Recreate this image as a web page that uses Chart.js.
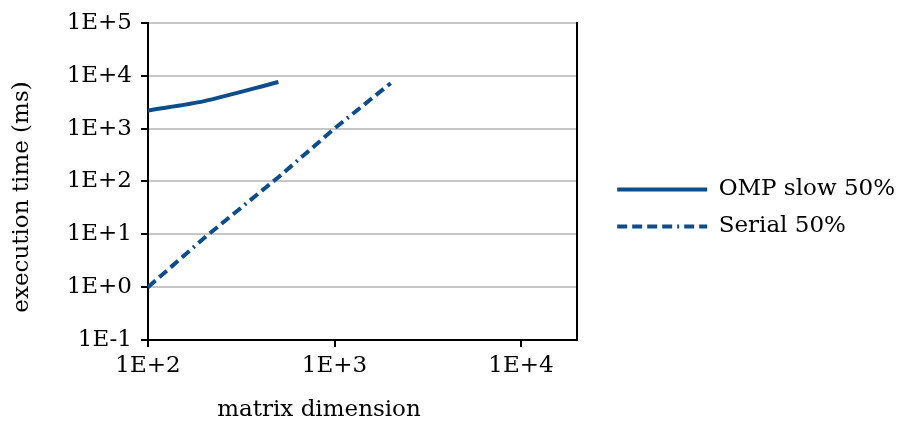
<!DOCTYPE html>
<html>
<head>
<meta charset="utf-8">
<script src="https://cdn.jsdelivr.net/npm/chart.js@4.4.1/dist/chart.umd.min.js"></script>
<style>
  html, body { margin: 0; padding: 0; background: #fff; }
  #wrap { width: 905px; height: 421px; }
</style>
</head>
<body>
<div id="wrap"><canvas id="myChart" width="905" height="421"></canvas></div>
<script>
// data (log-log)
const ompX = [100, 200, 500];
const ompY = [2200, 3300, 7600];
const serialX = [100, 200, 500, 1000, 2000];
const serialY = [1, 8.5, 120, 1000, 7200];

const seriesNames = ['OMP slow 50%', 'Serial 50%'];

const xTickValues = [100, 1000, 10000];
const xTickLabels = ['1E+2', '1E+3', '1E+4'];
const yTickValues = [0.1, 1, 10, 100, 1000, 10000, 100000];
const yTickLabels = ['1E-1', '1E+0', '1E+1', '1E+2', '1E+3', '1E+4', '1E+5'];

const xTitle = 'matrix dimension';
const yTitle = 'execution time (ms)';

const lineColor = '#0E4D8C';
const fontFamily = '"DejaVu Serif", "Liberation Serif", serif';
const serialDash = [10, 5, 10, 5, 10, 5, 10, 5, 2, 5];

function toPoints(xs, ys) {
  return xs.map((x, i) => ({ x: x, y: ys[i] }));
}

// nudge the legend to where it sits in the reference
const legendShift = {
  id: 'legendShift',
  afterLayout(chart) {
    if (chart.legend) {
      chart.legend.top -= 13;
      chart.legend.bottom -= 13;
    }
  }
};

// axis titles are not centred on the plot area in the reference
const axisTitles = {
  id: 'axisTitles',
  afterDraw(chart) {
    const c = chart.ctx;
    c.save();
    c.fillStyle = '#000';
    c.font = '23px ' + fontFamily;
    c.textAlign = 'center';
    c.textBaseline = 'middle';
    c.fillText(xTitle, 319, 410);
    c.translate(22, 197);
    c.rotate(-Math.PI / 2);
    c.fillText(yTitle, 0, 0);
    c.restore();
  }
};

let ctx = document.getElementById('myChart');

let chart = new Chart(ctx, {
  type: 'line',
  data: {
    datasets: [{
      label: seriesNames[0],
      data: toPoints(ompX, ompY),
      borderColor: lineColor,
      backgroundColor: lineColor,
      borderWidth: 4,
      pointRadius: 0,
      tension: 0.3,
      fill: false
    }, {
      label: seriesNames[1],
      data: toPoints(serialX, serialY),
      borderColor: lineColor,
      backgroundColor: lineColor,
      borderWidth: 4,
      borderDash: serialDash,
      pointRadius: 0,
      tension: 0,
      fill: false
    }]
  },
  options: {
    responsive: false,
    animation: false,
    devicePixelRatio: 1,
    layout: {
      padding: { top: 21, right: 0, bottom: 0, left: 0 }
    },
    plugins: {
      tooltip: { enabled: false },
      legend: {
        position: 'right',
        maxWidth: 340,
        labels: {
          usePointStyle: true,
          pointStyle: 'line',
          pointStyleWidth: 90,
          padding: 14,
          color: '#000',
          font: { family: fontFamily, size: 23 },
          generateLabels: function(chart) {
            let items = Chart.defaults.plugins.legend.labels.generateLabels(chart);
            items.forEach((item, i) => {
              item.lineDash = chart.data.datasets[i].borderDash || [];
              item.lineWidth = 4;
              item.strokeStyle = lineColor;
            });
            return items;
          }
        }
      }
    },
    scales: {
      x: {
        type: 'logarithmic',
        min: 100,
        max: 20000,
        afterBuildTicks: s => { s.ticks = xTickValues.map(v => ({ value: v })); },
        afterFit: s => { s.height = 81; },
        ticks: {
          autoSkip: false,
          maxRotation: 0,
          padding: 5,
          color: '#000',
          font: { family: fontFamily, size: 23 },
          callback: (v, i) => xTickLabels[i]
        },
        grid: {
          drawOnChartArea: false,
          drawTicks: true,
          tickLength: 7,
          tickColor: '#000',
          lineWidth: 2
        },
        border: { color: '#000', width: 2 }
      },
      y: {
        type: 'logarithmic',
        min: 0.1,
        max: 100000,
        afterBuildTicks: s => { s.ticks = yTickValues.map(v => ({ value: v })); },
        afterFit: s => { s.width = 148; },
        ticks: {
          autoSkip: false,
          padding: 9,
          color: '#000',
          font: { family: fontFamily, size: 23 },
          callback: (v, i) => yTickLabels[i]
        },
        grid: {
          color: '#c6c6c6',
          lineWidth: 2,
          tickLength: 7,
          tickColor: '#000'
        },
        border: { color: '#000', width: 2 }
      },
      y2: {
        type: 'linear',
        position: 'right',
        ticks: { display: false },
        grid: { display: false, drawTicks: false },
        border: { display: true, color: '#000', width: 2 },
        afterFit: s => { s.width = 26; }
      }
    }
  },
  plugins: [legendShift, axisTitles]
});
</script>
</body>
</html>
